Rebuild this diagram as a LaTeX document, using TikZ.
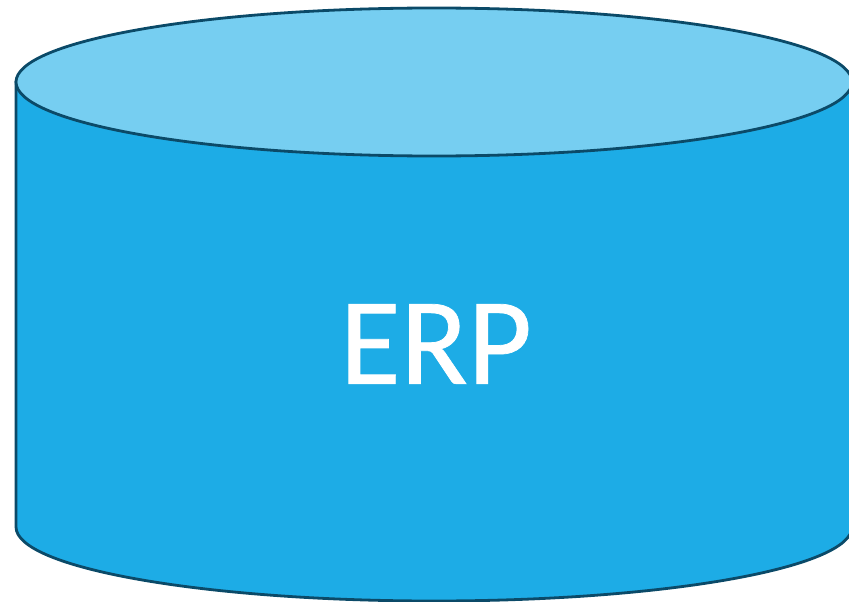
\documentclass[tikz,border=0pt]{standalone}
\usepackage{fontspec}
\setmainfont[FakeBold=0.6]{Carlito}
\definecolor{cylbody}{HTML}{1DACE6}
\definecolor{cyltop}{HTML}{76CEF1}
\definecolor{cylline}{HTML}{0B4A68}
\begin{document}
\begin{tikzpicture}[x=1pt,y=-1pt,cyl/.style={draw=cylline,line width=2.8pt}]
\useasboundingbox (0,0) rectangle (849,602);
\clip (0,0) rectangle (849,602);
\path[cyl,fill=cylbody] (16,82) -- (16,527) arc[start angle=180,end angle=360,x radius=418,y radius=-74] -- (852,82) -- cycle;
\path[cyl,fill=cyltop] (434,82) ellipse[x radius=418,y radius=74];
\node[text=white,font=\fontsize{124}{124}\selectfont,inner sep=0pt] (erp) at (436,344) {ERP};
\end{tikzpicture}
\end{document}
